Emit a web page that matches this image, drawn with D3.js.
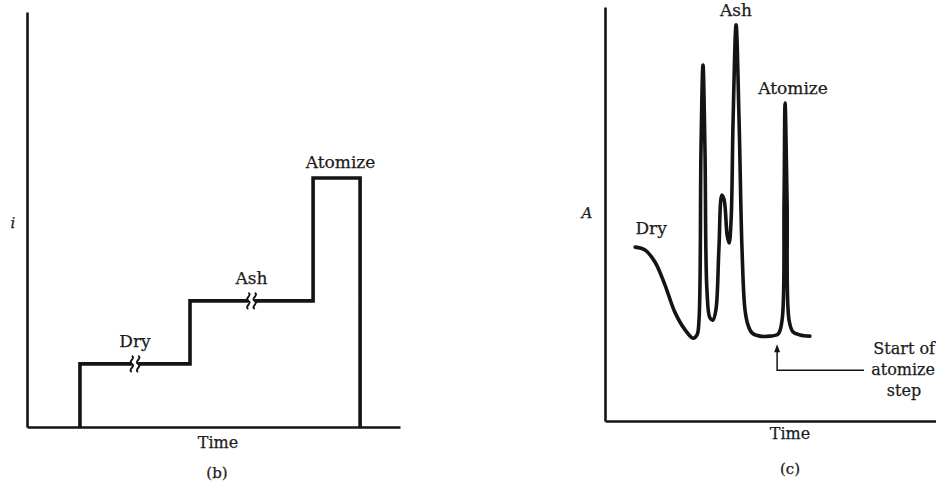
<!DOCTYPE html>
<html>
<head>
<meta charset="utf-8">
<script src="https://cdn.jsdelivr.net/npm/d3@7"></script>
<style>
  html, body { margin: 0; padding: 0; background: #fff; }
  svg { display: block; }
  text { font-family: "DejaVu Serif", "Liberation Serif", serif; fill: #1c1c1c; stroke: #1c1c1c; stroke-width: 0.25px; }
</style>
</head>
<body>
<svg id="chart" width="936" height="484"></svg>
<script>
// (b) lamp current program: one flat step per furnace stage
const stageNames   = ["Dry", "Ash", "Atomize"];
const stageStart   = [14.2, 43.7, 76.7];
const stageEnd     = [43.7, 76.7, 89.3];
const stageCurrent = [15.2, 30.4, 60.0];

// (c) absorbance recorded during the same program
const signalTime = [9.1, 12.1, 15.1, 18.1, 21.1, 24.2, 26.6, 27.8, 28.4, 29.0,
                    29.6, 30.2, 30.8, 31.7, 32.6, 33.5, 34.4, 35.3, 36.0, 36.9,
                    37.5, 38.1, 38.7, 39.6, 40.5, 41.4, 42.3, 43.2, 44.4, 46.8,
                    49.8, 52.3, 53.5, 54.1, 54.4, 55.0, 55.6, 56.8, 58.9, 61.9];
const signalAbs  = [42.0, 41.3, 38.4, 32.9, 26.3, 22.0, 20.0, 20.8, 24.4, 65.5,
                    86.0, 65.5, 31.6, 24.9, 24.4, 26.8, 41.3, 54.6, 53.4, 44.9,
                    43.0, 48.6, 72.7, 95.7, 72.7, 41.3, 26.8, 23.2, 21.3, 20.5,
                    20.5, 21.0, 24.4, 53.4, 76.8, 53.4, 24.4, 21.5, 20.8, 20.5];
const atomizeStart = 52.0;
const axisLabels = { b: ["i", "Time", "(b)"], c: ["A", "Time", "(c)"] };
const annotation = ["Start of", "atomize", "step"];

const svg = d3.select("#chart");
const ink = "#141414";

function drawAxes(x, y) {
  const g = svg.append("g");
  g.append("g")
    .attr("transform", `translate(0,${y.range()[0]})`)
    .call(d3.axisBottom(x).tickValues([]).tickSizeOuter(0));
  g.append("g")
    .attr("transform", `translate(${x.range()[0]},0)`)
    .call(d3.axisLeft(y).tickValues([]).tickSizeOuter(0));
  g.selectAll(".domain").attr("stroke", ink).attr("stroke-width", 2.6);
}

// ---------- panel (b) ----------
const xB = d3.scaleLinear().domain([0, 100]).range([27, 400]);
const yB = d3.scaleLinear().domain([0, 100]).range([427, 12]);
drawAxes(xB, yB);

const stepPts = [[stageStart[0], 0]];
stageNames.forEach((_, i) => {
  stepPts.push([stageStart[i], stageCurrent[i]], [stageEnd[i], stageCurrent[i]]);
});
stepPts.push([stageEnd[stageEnd.length - 1], 0]);

svg.append("path")
  .attr("d", d3.line().x(d => xB(d[0])).y(d => yB(d[1]))(stepPts))
  .attr("fill", "none").attr("stroke", ink).attr("stroke-width", 3.6)
  .attr("stroke-linejoin", "miter");

// time-break marks on the long Dry and Ash holds
stageNames.forEach((name, i) => {
  const mx = xB((stageStart[i] + stageEnd[i]) / 2);
  const my = yB(stageCurrent[i]);
  if (name !== "Atomize") {
    const br = svg.append("g").attr("transform", `translate(${mx},${my})`);
    br.append("rect").attr("x", -3).attr("y", -3).attr("width", 6).attr("height", 6).attr("fill", "#fff");
    [-3.2, 3.2].forEach(dx => {
      br.append("path")
        .attr("d", `M${dx},-8 c4.5,2 -4.5,6 0,8 c4.5,2 -4.5,6 0,8`)
        .attr("fill", "none").attr("stroke", ink).attr("stroke-width", 1.9);
    });
    svg.append("text").attr("x", mx).attr("y", my - 17)
      .attr("text-anchor", "middle").attr("font-size", 17).text(name);
  } else {
    svg.append("text").attr("x", xB((stageStart[i] + stageEnd[i]) / 2) + 4).attr("y", my - 10)
      .attr("text-anchor", "middle").attr("font-size", 17).text(name);
  }
});

svg.append("text").attr("x", 13).attr("y", 228).attr("text-anchor", "middle")
  .attr("font-size", 15).attr("font-style", "italic").text(axisLabels.b[0]);
svg.append("text").attr("x", 218).attr("y", 448).attr("text-anchor", "middle")
  .attr("font-size", 16).text(axisLabels.b[1]);
svg.append("text").attr("x", 217).attr("y", 478).attr("text-anchor", "middle")
  .attr("font-size", 15).text(axisLabels.b[2]);

// ---------- panel (c) ----------
const xC = d3.scaleLinear().domain([0, 100]).range([605, 936]);
const yC = d3.scaleLinear().domain([0, 100]).range([421, 7]);
drawAxes(xC, yC);

const signal = signalTime.map((t, i) => [t, signalAbs[i]]);
svg.append("path")
  .attr("d", d3.line().x(d => xC(d[0])).y(d => yC(d[1]))
    .curve(d3.curveCatmullRom.alpha(0.5))(signal))
  .attr("fill", "none").attr("stroke", ink).attr("stroke-width", 3.6)
  .attr("stroke-linejoin", "round").attr("stroke-linecap", "round");

// peak labels
const dryPt = signal[0];
svg.append("text").attr("x", xC(dryPt[0]) + 16).attr("y", yC(dryPt[1]) - 13)
  .attr("text-anchor", "middle").attr("font-size", 17).text(stageNames[0]);
const ashPt = signal.reduce((a, b) => (b[1] > a[1] ? b : a));
svg.append("text").attr("x", xC(ashPt[0])).attr("y", yC(ashPt[1]) - 9)
  .attr("text-anchor", "middle").attr("font-size", 17).text(stageNames[1]);
const atomPt = signal.filter(d => d[0] > atomizeStart).reduce((a, b) => (b[1] > a[1] ? b : a));
svg.append("text").attr("x", xC(atomPt[0]) + 8).attr("y", yC(atomPt[1]) - 9)
  .attr("text-anchor", "middle").attr("font-size", 17).text(stageNames[2]);

// start-of-atomize pointer
const ax = xC(atomizeStart);
const baseY = yC(d3.min(signal.filter(d => d[0] > 44 && d[0] < atomizeStart), d => d[1]));
const tipY = baseY + 8, elbowY = baseY + 34, endX = 864;
svg.append("path").attr("d", `M${ax},${tipY + 5}V${elbowY}H${endX}`)
  .attr("fill", "none").attr("stroke", ink).attr("stroke-width", 1.5);
svg.append("path").attr("d", `M${ax},${tipY} l-3,8 h6 z`).attr("fill", ink);

annotation.forEach((s, i) => {
  const t = svg.append("text").attr("y", 354 + i * 21).attr("font-size", 16).text(s);
  if (i < 2) t.attr("x", 935).attr("text-anchor", "end");
  else t.attr("x", 904).attr("text-anchor", "middle");
});

svg.append("text").attr("x", 587).attr("y", 218).attr("text-anchor", "middle")
  .attr("font-size", 15).attr("font-style", "italic").text(axisLabels.c[0]);
svg.append("text").attr("x", 790).attr("y", 439).attr("text-anchor", "middle")
  .attr("font-size", 16).text(axisLabels.c[1]);
svg.append("text").attr("x", 790).attr("y", 474).attr("text-anchor", "middle")
  .attr("font-size", 15).text(axisLabels.c[2]);
</script>
</body>
</html>
